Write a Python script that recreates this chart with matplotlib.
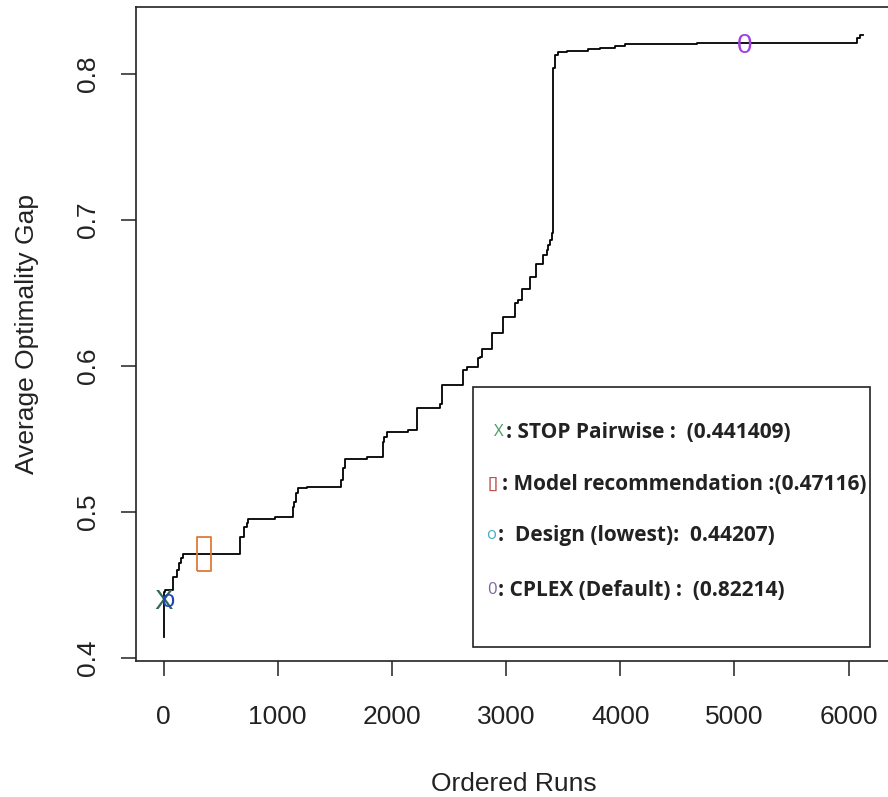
import matplotlib
matplotlib.use("Agg")
import matplotlib.pyplot as plt
from matplotlib.patches import Rectangle

plt.rcParams["font.family"] = ["Liberation Sans", "DejaVu Sans"]

# ordered runs (step breakpoints) and average optimality gap level from each breakpoint
run_idx = [0, 2, 15, 81, 120, 133, 155, 168, 666, 701, 730, 744, 978, 1133, 1144,
           1159, 1182, 1256, 1553, 1571, 1591, 1781, 1918, 1935, 1956, 2145, 2219,
           2423, 2438, 2627, 2657, 2758, 2773, 2788, 2876, 2977, 3080, 3109, 3138,
           3211, 3264, 3328, 3357, 3366, 3386, 3404, 3415, 3430, 3459, 3533, 3722,
           3825, 3956, 4043, 4671, 6072, 6101, 6127]
gap = [0.4144, 0.4452, 0.4466, 0.4555, 0.4603, 0.4651, 0.4685, 0.4712, 0.4829,
       0.4897, 0.4927, 0.4950, 0.4968, 0.5034, 0.5071, 0.5128, 0.5162, 0.5173,
       0.5219, 0.5299, 0.5363, 0.5379, 0.5482, 0.5516, 0.5550, 0.5562, 0.5710,
       0.5740, 0.5870, 0.5973, 0.5995, 0.6053, 0.6064, 0.6114, 0.6228, 0.6338,
       0.6429, 0.6452, 0.6527, 0.6610, 0.6699, 0.6760, 0.6795, 0.6829, 0.6863,
       0.6909, 0.8039, 0.8130, 0.8151, 0.8160, 0.8171, 0.8180, 0.8194, 0.8205,
       0.8214, 0.8245, 0.8267, 0.8267]

# highlighted configurations
mark_sym = ["X", "o", "0"]
mark_x = [0, 40, 5094]
mark_y = [0.441409, 0.44207, 0.82214]
mark_col = ["#2f6a52", "#2244b8", "#a040dd"]
mark_size = [20, 17, 20]
model_x, model_y = 355, 0.47116

# legend box text
leg_sym = ["X", "[]", "o", "0"]
leg_sym_col = ["#4a9a62", "#c0504d", "#4bacc6", "#8064a2"]
leg_text = [": STOP Pairwise :  (0.441409)", ": Model recommendation :(0.47116)",
            ":  Design (lowest):  0.44207)", ": CPLEX (Default) :  (0.82214)"]

W, H = 888, 797
fig = plt.figure(figsize=(W / 100, H / 100), dpi=100)
ax = fig.add_axes([135.7 / W, 1 - 661 / H, (891 - 135.7) / W, (661 - 6.7) / H])

ax.step(run_idx, gap, where="post", color="black", lw=1.3, zorder=3)
for s, x, y, c, fs in zip(mark_sym, mark_x, mark_y, mark_col, mark_size):
    ax.annotate(s, (x, y), xytext=(0, -3.5), textcoords="offset points", color=c,
                fontsize=fs, ha="center", va="center", zorder=4)
ax.plot([model_x], [model_y], linestyle="none", mec="#e07a3a", mfc="none", mew=1.3,
        marker=[(-0.4, -1), (0.4, -1), (0.4, 1), (-0.4, 1), (-0.4, -1)], ms=25, zorder=4)

ax.set_xlim(-244, 6372)
ax.set_ylim(0.398, 0.846)
ax.set_xticks([0, 1000, 2000, 3000, 4000, 5000, 6000])
ax.set_yticks([0.4, 0.5, 0.6, 0.7, 0.8])
ax.set_yticklabels(["0.4", "0.5", "0.6", "0.7", "0.8"])
for lab in ax.get_yticklabels():
    lab.set_rotation(90)
    lab.set_va("center")
ax.tick_params(length=10.5, width=1.1, color="#222222", labelsize=19,
               labelcolor="#222222")
ax.tick_params(axis="x", pad=21)
ax.tick_params(axis="y", pad=15)
for sp in ax.spines.values():
    sp.set_linewidth(1.2)
    sp.set_color("#222222")
ax.set_xlabel("Ordered Runs", fontsize=19, color="#222222", labelpad=31)
ax.set_ylabel("Average Optimality Gap", fontsize=19, color="#222222", labelpad=27)

# legend box drawn in figure pixels
fig.patches.append(Rectangle((473 / W, 1 - 647 / H), (870 - 473) / W, (647 - 387) / H,
                             transform=fig.transFigure, fill=True, fc="white",
                             ec="#222222", lw=1.2, zorder=5))
sym_x = [494, 488, 486, 487]
txt_x = [506, 502, 498, 498]
row_y = [432, 485, 535, 590]
for s, c, t, sx, tx, ry in zip(leg_sym, leg_sym_col, leg_text, sym_x, txt_x, row_y):
    fig.text(sx / W, 1 - ry / H, s, color=c, fontsize=12, family="Open Sans",
             ha="left", va="center", zorder=6)
    fig.text(tx / W, 1 - ry / H, t, color="#222222", fontsize=15, family="Open Sans",
             weight="bold", ha="left", va="center", zorder=6)

fig.savefig("out.png", dpi=100)
